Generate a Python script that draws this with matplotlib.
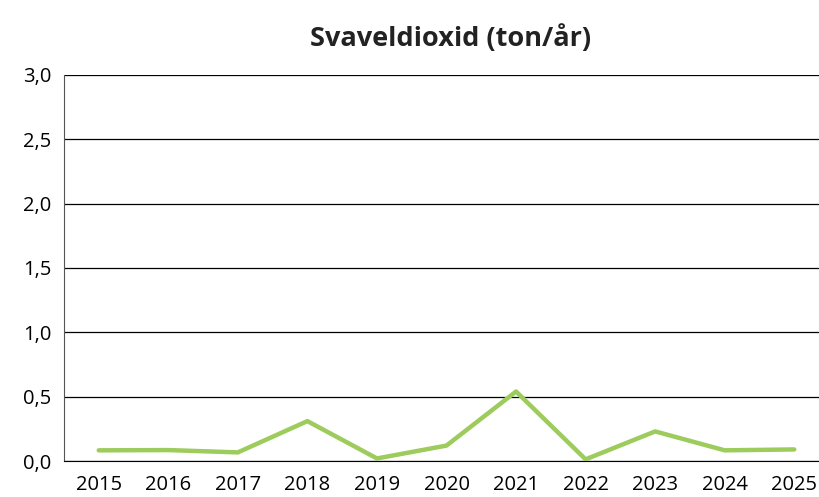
import matplotlib
matplotlib.use('Agg')
import matplotlib.pyplot as plt
from matplotlib.ticker import FuncFormatter

years = ['2015','2016','2017','2018','2019','2020','2021','2022','2023','2024','2025']
so2 = [0.083,0.085,0.067,0.31,0.02,0.12,0.54,0.013,0.23,0.083,0.09]
yticks = [0.0,0.5,1.0,1.5,2.0,2.5,3.0]

plt.rcParams['font.family'] = ['Open Sans', 'DejaVu Sans']

fig = plt.figure(figsize=(8.2,4.97), dpi=100)
ax = fig.add_axes([0.078,0.0724,0.922,0.777])

x = list(range(len(years)))
ax.plot(x, so2, color='#9dcb5c', linewidth=3.2, solid_capstyle='round', zorder=3)

ax.set_ylim(0,3.0)
ax.set_xlim(-0.5,10.37)
ax.set_yticks(yticks)
ax.yaxis.set_major_formatter(FuncFormatter(lambda v,p: f'{v:.1f}'.replace('.',',')))
ax.set_xticks(x)
ax.set_xticklabels(years)
ax.grid(axis='y', color='black', linewidth=0.9)
ax.set_axisbelow(True)
for s in ['top','right']:
    ax.spines[s].set_visible(False)
ax.spines['left'].set_color('#555555')
ax.spines['bottom'].set_color('black')
ax.tick_params(length=0, labelsize=14.5, colors='black')
ax.tick_params(axis='y', pad=9)
ax.tick_params(axis='x', pad=10)
fig.text(0.549,0.923,'Svaveldioxid (ton/år)', ha='center', va='center', fontsize=19.5, fontweight='bold', color='#222222')

fig.savefig('out.png', dpi=100)
